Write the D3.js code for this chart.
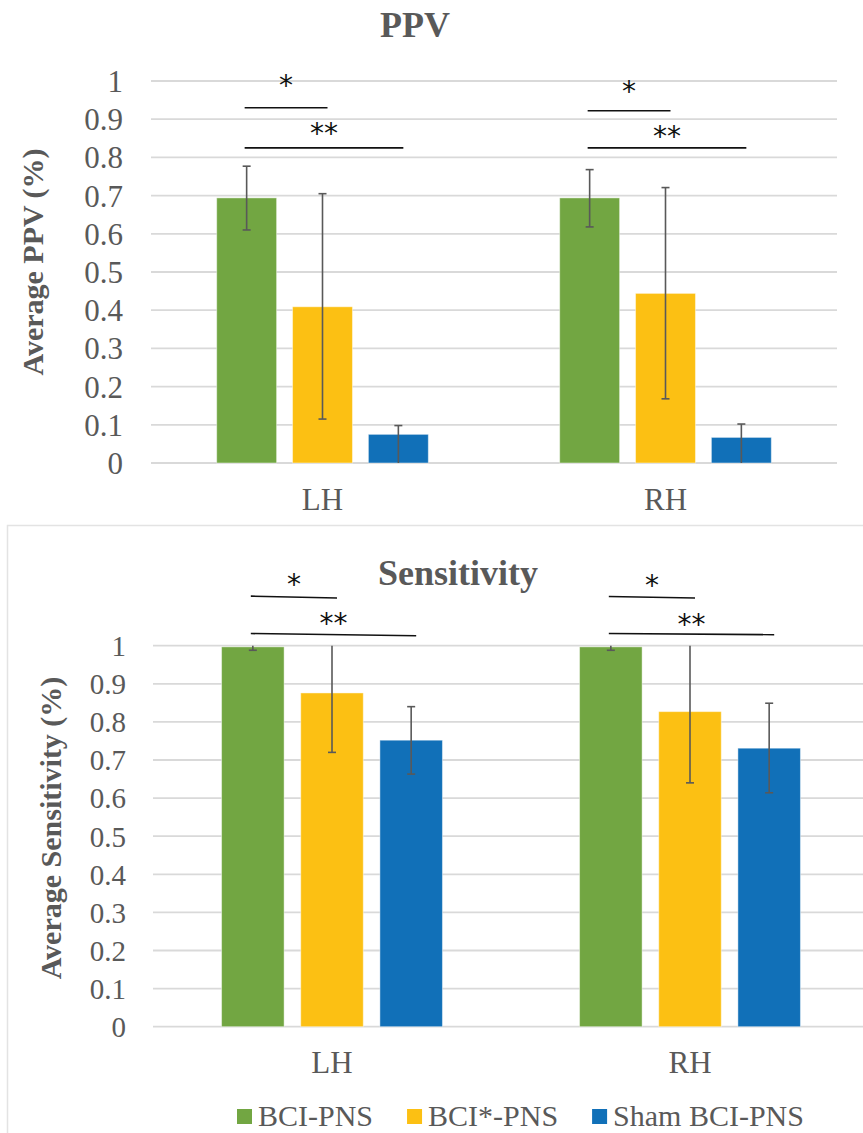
<!DOCTYPE html>
<html>
    <head>
        <title>PPV and Sensitivity</title>
        <script src="https://d3js.org/d3.v7.min.js"></script>
        <style>
            body { margin: 0; background: #fff; }
            svg text { font-family: 'Liberation Serif', 'Times New Roman', serif; }
        </style>
    </head>
    <body>
        <script>
            // groups and series
            const groups = ["LH", "RH"];
            const series = ["BCI-PNS", "BCI*-PNS", "Sham BCI-PNS"];
            const colors = ["#72a642", "#fcc013", "#1170b8"];
            const yTicks = [0, 0.1, 0.2, 0.3, 0.4, 0.5, 0.6, 0.7, 0.8, 0.9, 1];

            // PPV: mean, lower and upper end of the error bar, one row per series, [LH, RH]
            const ppvMean = [[0.694, 0.694], [0.409, 0.444], [0.075, 0.067]];
            const ppvLow  = [[0.610, 0.618], [0.115, 0.168], [0.000, 0.000]];
            const ppvHigh = [[0.777, 0.768], [0.705, 0.721], [0.098, 0.102]];

            // Sensitivity
            const sensMean = [[0.997, 0.997], [0.876, 0.827], [0.752, 0.731]];
            const sensLow  = [[0.988, 0.988], [0.720, 0.640], [0.663, 0.614]];
            const sensHigh = [[1.006, 1.006], [1.030, 1.010], [0.840, 0.849]];

            // significance brackets: group, from series, to series, line value (left, right), label baseline value
            const ppvSig = [
                {group: "LH", from: 0, to: 1, y1: 0.930, y2: 0.930, ly: 0.963, label: "*"},
                {group: "LH", from: 0, to: 2, y1: 0.825, y2: 0.825, ly: 0.838, label: "**"},
                {group: "RH", from: 0, to: 1, y1: 0.922, y2: 0.922, ly: 0.948, label: "*"},
                {group: "RH", from: 0, to: 2, y1: 0.825, y2: 0.825, ly: 0.830, label: "**"}
            ];
            const sensSig = [
                {group: "LH", from: 0, to: 1, y1: 1.130, y2: 1.125, ly: 1.136, label: "*"},
                {group: "LH", from: 0, to: 2, y1: 1.032, y2: 1.026, ly: 1.033, label: "**"},
                {group: "RH", from: 0, to: 1, y1: 1.129, y2: 1.125, ly: 1.133, label: "*"},
                {group: "RH", from: 0, to: 2, y1: 1.032, y2: 1.029, ly: 1.031, label: "**"}
            ];

            const WIDTH = 863;
            const HEIGHT = 1133;
            const SERIF = "Liberation Serif";
            const GREY = "#595959";

            const svg = d3.select("body").append("svg")
                .attr("width", WIDTH)
                .attr("height", HEIGHT);

            // border of the lower chart
            svg.append("rect")
                .attr("x", 7.5).attr("y", 525.5)
                .attr("width", 900).attr("height", 700)
                .style("fill", "none")
                .style("stroke", "#e3e3e3")
                .style("stroke-width", 1.5);

            function drawPanel(p) {
                let g = svg.append("g").attr("id", p.id);

                let xScale = d3.scaleBand().domain(groups).range([p.left, p.right]);
                let xSub = d3.scaleBand().domain(d3.range(series.length))
                    .range([0, xScale.bandwidth() * 0.617])
                    .paddingInner(0.21);
                let subOffset = (xScale.bandwidth() - xSub.range()[1]) / 2;
                let yScale = d3.scaleLinear().domain([0, 1]).range([p.bottom, p.top]);
                let barX = (grp, s) => xScale(grp) + subOffset + xSub(s);
                let barMid = (grp, s) => barX(grp, s) + xSub.bandwidth() / 2;

                // gridlines
                g.append("g").selectAll("line")
                    .data(yTicks)
                    .enter()
                    .append("line")
                    .attr("x1", p.left).attr("x2", p.gridEnd)
                    .attr("y1", d => yScale(d)).attr("y2", d => yScale(d))
                    .style("stroke", "#d9d9d9")
                    .style("stroke-width", 1.8);

                // y axis labels
                let yAxis = d3.axisLeft(yScale).tickValues(yTicks).tickSize(0).tickPadding(0)
                    .tickFormat(d => d3.format("")(d));
                let ya = g.append("g")
                    .attr("class", "y-axis")
                    .attr("transform", "translate(" + p.tickX + ",0)")
                    .call(yAxis)
                    .attr("font-family", SERIF);
                ya.select(".domain").remove();
                ya.selectAll("text")
                    .attr("dy", "0.34em")
                    .attr("font-family", SERIF)
                    .style("font-size", p.tickSize + "px")
                    .attr("fill", GREY);

                // x axis labels
                let xAxis = d3.axisBottom(xScale).tickSize(0).tickPadding(0);
                let xa = g.append("g")
                    .attr("class", "x-axis")
                    .attr("transform", "translate(0," + p.catY + ")")
                    .call(xAxis)
                    .attr("font-family", SERIF);
                xa.select(".domain").remove();
                xa.selectAll("text")
                    .attr("dy", 0).attr("y", 0)
                    .attr("font-family", SERIF)
                    .style("font-size", "31px")
                    .attr("fill", GREY);

                // flatten the data
                let rows = [];
                series.forEach((s, i) => {
                    groups.forEach((grp, j) => {
                        rows.push({grp: grp, s: i, v: p.mean[i][j], lo: p.low[i][j], hi: p.high[i][j]});
                    });
                });

                g.selectAll(".bar")
                    .data(rows)
                    .enter()
                    .append("rect")
                    .attr("class", "bar")
                    .attr("x", d => barX(d.grp, d.s))
                    .attr("width", xSub.bandwidth())
                    .attr("y", d => yScale(d.v))
                    .attr("height", d => yScale(0) - yScale(d.v))
                    .style("fill", d => colors[d.s])
                    .style("stroke", "rgba(255,255,255,0.45)")
                    .style("stroke-width", 1);

                // error bars, clipped to the axis like excel does
                let clip = v => Math.max(0, Math.min(1, v));
                let eb = g.append("g").attr("class", "errors")
                    .style("stroke", GREY).style("stroke-width", 1.6);
                rows.forEach(d => {
                    let cx = barMid(d.grp, d.s);
                    eb.append("line")
                        .attr("x1", cx).attr("x2", cx)
                        .attr("y1", yScale(clip(d.lo))).attr("y2", yScale(clip(d.hi)));
                    [d.lo, d.hi].forEach(e => {
                        if (e > 0 && e <= 1) {
                            eb.append("line")
                                .attr("x1", cx - 4).attr("x2", cx + 4)
                                .attr("y1", yScale(e)).attr("y2", yScale(e));
                        }
                    });
                });

                // significance brackets
                let sg = g.append("g").attr("class", "sig");
                p.sig.forEach(d => {
                    let x1 = barMid(d.group, d.from) - 2;
                    let x2 = barMid(d.group, d.to) + 5;
                    sg.append("line")
                        .attr("x1", x1).attr("x2", x2)
                        .attr("y1", yScale(d.y1)).attr("y2", yScale(d.y2))
                        .style("stroke", "#111")
                        .style("stroke-width", 1.6);
                    sg.append("text")
                        .attr("x", (x1 + x2) / 2)
                        .attr("y", yScale(d.ly))
                        .attr("text-anchor", "middle")
                        .style("font-family", "'DejaVu Sans', sans-serif")
                        .style("font-size", "28px")
                        .style("fill", "#111")
                        .text(d.label);
                });

                // title
                g.append("text")
                    .attr("x", p.titleX).attr("y", p.titleY)
                    .attr("text-anchor", "middle")
                    .attr("font-family", SERIF)
                    .style("font-weight", "bold")
                    .style("font-size", "36px")
                    .style("fill", GREY)
                    .text(p.title);

                // y axis title
                g.append("text")
                    .attr("transform", "translate(" + p.yTitleX + "," + p.yTitleY + ") rotate(-90)")
                    .attr("text-anchor", "middle")
                    .attr("font-family", SERIF)
                    .style("font-weight", "bold")
                    .style("font-size", "30px")
                    .style("fill", GREY)
                    .text(p.yTitle);
            }

            drawPanel({
                id: "ppv", title: "PPV", yTitle: "Average PPV (%)",
                mean: ppvMean, low: ppvLow, high: ppvHigh, sig: ppvSig,
                left: 151, right: 837, gridEnd: 837, top: 81, bottom: 463,
                tickX: 123, tickSize: 31, catY: 510,
                titleX: 415, titleY: 37, yTitleX: 43, yTitleY: 262
            });

            drawPanel({
                id: "sens", title: "Sensitivity", yTitle: "Average Sensitivity (%)",
                mean: sensMean, low: sensLow, high: sensHigh, sig: sensSig,
                left: 153, right: 869, gridEnd: 869, top: 645.7, bottom: 1026.7,
                tickX: 126, tickSize: 29, catY: 1073,
                titleX: 458, titleY: 585, yTitleX: 61, yTitleY: 828
            });

            // legend
            let legend = svg.append("g").attr("id", "legend");
            let lx = 237;
            series.forEach((s, i) => {
                legend.append("rect")
                    .attr("x", lx).attr("y", 1109)
                    .attr("width", 15).attr("height", 15)
                    .style("fill", colors[i]);
                let t = legend.append("text")
                    .attr("x", lx + 21).attr("y", 1126)
                    .attr("font-family", SERIF)
                    .style("font-size", "30px")
                    .style("fill", GREY)
                    .text(s);
                lx += 21 + t.node().getComputedTextLength() + 34;
            });
        </script>
    </body>
</html>
